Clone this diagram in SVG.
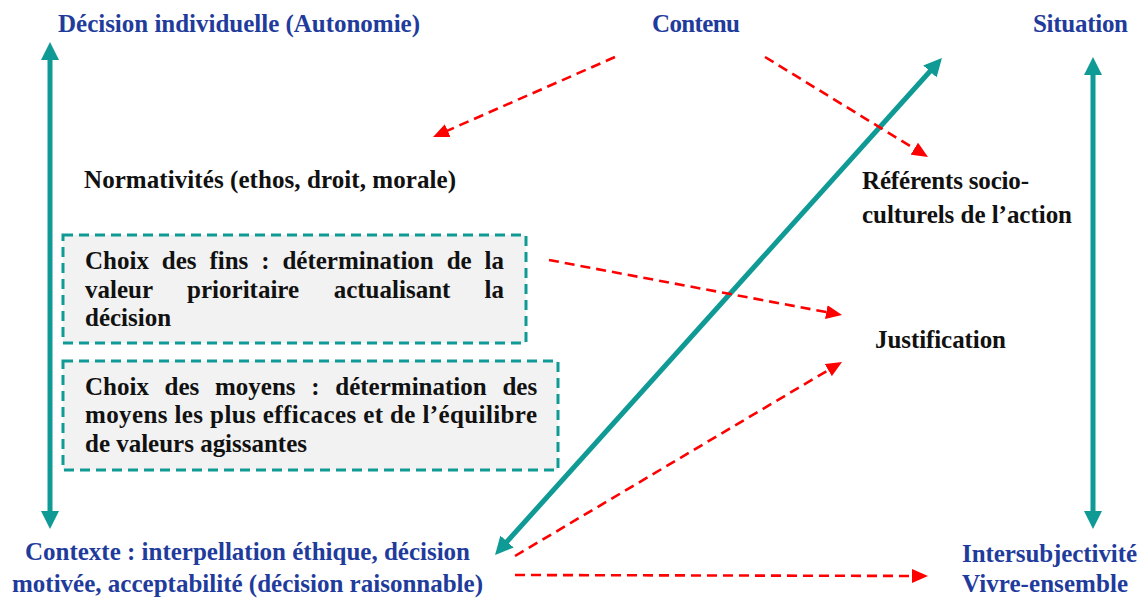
<svg xmlns="http://www.w3.org/2000/svg" width="1142" height="599" viewBox="0 0 1142 599">
<style>
text{font-family:'Liberation Serif','Times New Roman',serif;font-weight:700;font-size:25px}
.blue{fill:#1f3c9c}
.blk{fill:#111}
.teal{stroke:#0f9a95;stroke-width:5;fill:none}
.red{stroke:#ff0000;stroke-width:2.6;stroke-dasharray:10 6;fill:none}
.box{fill:#f2f2f2;stroke:#0f9a95;stroke-width:3;stroke-dasharray:10 6}
</style>
<defs>
<marker id="ht" markerUnits="userSpaceOnUse" markerWidth="18" markerHeight="18" refX="10" refY="9" orient="auto-start-reverse">
<path d="M0,0 L18,9 L0,18 z" fill="#0f9a95"/>
</marker>
<marker id="hr" markerUnits="userSpaceOnUse" markerWidth="16" markerHeight="14" refX="12" refY="7" orient="auto">
<path d="M0,0 L16,7 L0,14 z" fill="#ff0000"/>
</marker>
</defs>
<rect width="1142" height="599" fill="#fff"/>
<g id="connectors">
<line class="teal" x1="50" y1="50" x2="50" y2="521" marker-start="url(#ht)" marker-end="url(#ht)"/>
<line class="teal" x1="1093" y1="65" x2="1093" y2="521" marker-start="url(#ht)" marker-end="url(#ht)"/>
<line class="teal" x1="936.6" y1="64" x2="500.4" y2="549" marker-start="url(#ht)" marker-end="url(#ht)"/>
<line class="red" x1="615" y1="57" x2="436.7" y2="135.4" marker-end="url(#hr)"/>
<line class="red" x1="765" y1="57" x2="924.6" y2="154.9" marker-end="url(#hr)"/>
<line class="red" x1="549" y1="260" x2="838.1" y2="314.3" marker-end="url(#hr)"/>
<line class="red" x1="515" y1="556" x2="838.6" y2="364" marker-end="url(#hr)"/>
<line class="red" x1="515" y1="575" x2="924" y2="576" marker-end="url(#hr)"/>
</g>
<g id="decision"><text class="blue" x="58" y="32" textLength="362">Décision individuelle (Autonomie)</text></g>
<g id="contenu"><text class="blue" x="652" y="32" textLength="88">Contenu</text></g>
<g id="situation"><text class="blue" x="1033" y="32" textLength="95">Situation</text></g>
<g id="normativites"><text class="blk" x="84" y="188" textLength="372">Normativités (ethos, droit, morale)</text></g>
<g id="referents"><text class="blk" x="862" y="189" textLength="167">Référents socio-</text><text class="blk" x="862" y="223" textLength="210">culturels de l’action</text></g>
<g id="justification"><text class="blk" x="875" y="348" textLength="131">Justification</text></g>
<g id="fins">
<rect class="box" x="63" y="235" width="463" height="108"/>
<text class="blk" y="269"><tspan x="85">Choix</tspan><tspan x="161.8">des</tspan><tspan x="209.4">fins</tspan><tspan x="261.2">:</tspan><tspan x="282.4">détermination</tspan><tspan x="446.7">de</tspan><tspan x="484.6">la</tspan></text>
<text class="blk" y="298"><tspan x="85">valeur</tspan><tspan x="187.1">prioritaire</tspan><tspan x="333.7">actualisant</tspan><tspan x="484.5">la</tspan></text>
<text class="blk" x="85" y="326">décision</text>
</g>
<g id="moyens">
<rect class="box" x="63" y="361" width="495" height="109"/>
<text class="blk" y="395"><tspan x="85">Choix</tspan><tspan x="164.6">des</tspan><tspan x="215">moyens</tspan><tspan x="311.3">:</tspan><tspan x="335.3">détermination</tspan><tspan x="502.4">des</tspan></text>
<text class="blk" x="85" y="423" textLength="452">moyens les plus efficaces et de l’équilibre</text>
<text class="blk" x="85" y="452" textLength="222">de valeurs agissantes</text>
</g>
<g id="contexte">
<text class="blue" x="25" y="560" textLength="445">Contexte : interpellation éthique, décision</text>
<text class="blue" x="12" y="592" textLength="471">motivée, acceptabilité (décision raisonnable)</text>
</g>
<g id="intersubjectivite">
<text class="blue" x="962" y="562" textLength="175">Intersubjectivité</text>
<text class="blue" x="962" y="592" textLength="166">Vivre-ensemble</text>
</g>
</svg>
